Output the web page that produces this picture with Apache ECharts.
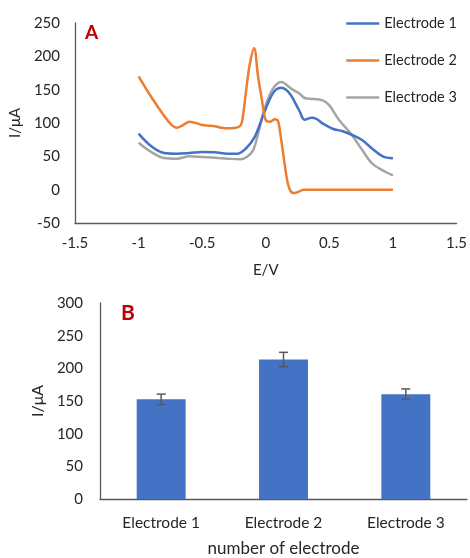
<!DOCTYPE html>
<html><head><meta charset="utf-8">
<script src="https://cdn.jsdelivr.net/npm/echarts@6/dist/echarts.min.js"></script>
<style>html,body{margin:0;padding:0;background:#fff;}#c{width:470px;height:558px;}</style>
</head><body><div id="c"></div>
<script>
// ---- Chart A data (E/V, I/uA) ----
const e1 = [-1, -0.9, -0.8, -0.7, -0.6, -0.5, -0.4, -0.3, -0.22, -0.16, -0.09, -0.035, 0.005, 0.045, 0.08, 0.12, 0.16, 0.2, 0.265, 0.305, 0.36, 0.4, 0.45, 0.53, 0.6, 0.68, 0.76, 0.84, 0.92, 1.0];
const i1 = [84, 65, 55, 54, 55, 56.5, 56, 54, 54, 61, 78, 104, 124, 141, 150, 153, 150, 141, 118, 105, 108, 106, 99, 91, 88, 82, 74, 61, 50, 47];
const e2 = [-1, -0.9, -0.8, -0.75, -0.7, -0.65, -0.6, -0.55, -0.5, -0.45, -0.4, -0.35, -0.3, -0.25, -0.198, -0.177, -0.151, -0.125, -0.092, -0.06, -0.034, -0.013, 0.005, 0.035, 0.07, 0.096, 0.122, 0.148, 0.174, 0.2, 0.226, 0.26, 0.3, 0.5, 0.75, 1.0];
const i2 = [170, 139, 111, 99, 93, 97, 102, 100, 97, 96, 95, 93, 92, 92.5, 96.5, 114, 154, 189, 212, 169, 139, 114, 103, 102, 105.5, 103, 74, 39, 9, -3.5, -5, -3, 0, 0, 0, 0];
const e3 = [-1, -0.9, -0.8, -0.7, -0.6, -0.5, -0.4, -0.3, -0.2, -0.15, -0.1, -0.06, -0.021, 0.018, 0.07, 0.122, 0.2, 0.266, 0.305, 0.344, 0.448, 0.5, 0.578, 0.67, 0.76, 0.838, 0.943, 1.0];
const i3 = [70.5, 56.5, 47.5, 46.5, 50, 49, 48, 46.5, 45.5, 49, 59, 84, 114, 136.5, 155, 161.5, 151.5, 144, 137.5, 136.5, 134, 126.5, 104, 84, 59, 39, 26.5, 21.5];
const seriesNamesA = ['Electrode 1', 'Electrode 2', 'Electrode 3'];

// ---- Chart B data ----
const categoriesB = ['Electrode 1', 'Electrode 2', 'Electrode 3'];
const valuesB = [152.5, 213.5, 160.5];
const errorsB = [8, 11, 8];

const zip = (xs, ys) => xs.map((x, k) => [x, ys[k]]);
const FONT = 'Lato';
const TXT = '#262626';
const AX = '#595959';
const colors = ['#4472C4', '#ED7D31', '#A5A5A5'];

const chart = echarts.init(document.getElementById('c'), null, {renderer: 'canvas'});
chart.setOption({
  animation: false,
  textStyle: {fontFamily: FONT},
  title: [
    {text: 'A', left: 85, top: 23, padding: 0, textStyle: {color: '#C00000', fontSize: 19, fontWeight: 'bold', fontFamily: FONT}},
    {text: 'B', left: 121, top: 303, padding: 0, textStyle: {color: '#C00000', fontSize: 21, fontWeight: 'bold', fontFamily: FONT}}
  ],
  legend: {
    orient: 'vertical', left: 345, top: 16, padding: 0, itemWidth: 33, itemHeight: 14, itemGap: 22,
    data: seriesNamesA,
    itemStyle: {opacity: 0},
    lineStyle: {width: 2.5},
    textStyle: {fontSize: 14.5, color: TXT, fontFamily: FONT}
  },
  grid: [
    {left: 74, right: 12, top: 23, bottom: 335},
    {left: 100, right: 3, top: 303, bottom: 55}
  ],
  xAxis: [
    {type: 'value', gridIndex: 0, min: -1.5, max: 1.5, interval: 0.5,
      name: 'E/V', nameLocation: 'middle', nameGap: 40,
      nameTextStyle: {fontSize: 15, color: TXT, fontFamily: FONT},
      axisLine: {show: true, onZero: false, lineStyle: {color: AX, width: 1.3}},
      axisTick: {show: false}, splitLine: {show: false},
      axisLabel: {fontSize: 15, color: TXT, margin: 13, fontFamily: FONT}},
    {type: 'category', gridIndex: 1, data: categoriesB,
      name: 'number of electrode', nameLocation: 'middle', nameGap: 41,
      nameTextStyle: {fontSize: 17, color: TXT, fontFamily: FONT},
      axisLine: {show: true, lineStyle: {color: AX, width: 1.3}},
      axisTick: {show: false}, splitLine: {show: false},
      axisLabel: {fontSize: 15.5, color: TXT, margin: 16, fontFamily: FONT}}
  ],
  yAxis: [
    {type: 'value', gridIndex: 0, min: -50, max: 250, interval: 50,
      name: 'I/μA', nameLocation: 'middle', nameGap: 45, nameRotate: 90,
      nameTextStyle: {fontSize: 15, color: TXT, fontFamily: FONT},
      axisLine: {show: true, onZero: false, lineStyle: {color: AX, width: 1.3}},
      axisTick: {show: false}, splitLine: {show: false},
      axisLabel: {fontSize: 15, color: TXT, margin: 15, fontFamily: FONT}},
    {type: 'value', gridIndex: 1, min: 0, max: 300, interval: 50,
      name: 'I/μA', nameLocation: 'middle', nameGap: 50, nameRotate: 90,
      nameTextStyle: {fontSize: 16, color: TXT, fontFamily: FONT},
      axisLine: {show: true, onZero: false, lineStyle: {color: AX, width: 1.3}},
      axisTick: {show: false}, splitLine: {show: false},
      axisLabel: {fontSize: 15, color: TXT, margin: 17, fontFamily: FONT}}
  ],
  series: [
    {name: seriesNamesA[0], type: 'line', xAxisIndex: 0, yAxisIndex: 0, data: zip(e1, i1),
      smooth: 0.35, showSymbol: false, symbol: 'none', lineStyle: {color: colors[0], width: 2.5}, itemStyle: {color: colors[0]}, z: 3},
    {name: seriesNamesA[1], type: 'line', xAxisIndex: 0, yAxisIndex: 0, data: zip(e2, i2),
      smooth: 0.35, showSymbol: false, symbol: 'none', lineStyle: {color: colors[1], width: 2.5}, itemStyle: {color: colors[1]}, z: 4},
    {name: seriesNamesA[2], type: 'line', xAxisIndex: 0, yAxisIndex: 0, data: zip(e3, i3),
      smooth: 0.35, showSymbol: false, symbol: 'none', lineStyle: {color: colors[2], width: 2.5}, itemStyle: {color: colors[2]}, z: 2},
    {name: 'bars', type: 'bar', xAxisIndex: 1, yAxisIndex: 1, data: valuesB, barWidth: '40%',
      itemStyle: {color: '#4472C4'}},
    {name: 'err', type: 'custom', xAxisIndex: 1, yAxisIndex: 1, z: 5,
      data: valuesB.map((v, k) => [k, v - errorsB[k], v + errorsB[k]]),
      renderItem: function (params, api) {
        const lo = api.coord([api.value(0), api.value(1)]);
        const hi = api.coord([api.value(0), api.value(2)]);
        const hw = 4.5;
        const st = {stroke: '#595959', lineWidth: 1.5};
        return {type: 'group', children: [
          {type: 'line', shape: {x1: lo[0], y1: lo[1], x2: hi[0], y2: hi[1]}, style: st},
          {type: 'line', shape: {x1: lo[0] - hw, y1: lo[1], x2: lo[0] + hw, y2: lo[1]}, style: st},
          {type: 'line', shape: {x1: hi[0] - hw, y1: hi[1], x2: hi[0] + hw, y2: hi[1]}, style: st}
        ]};
      }}
  ]
});
</script>
</body></html>
